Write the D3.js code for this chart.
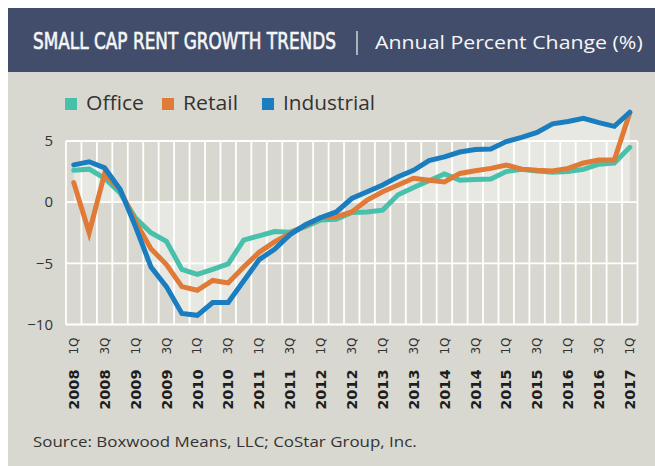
<!DOCTYPE html>
<html><head><meta charset="utf-8">
<script src="https://cdn.jsdelivr.net/npm/d3@7"></script>
<style>body{margin:0;background:#fff}svg{display:block}</style>
</head><body><svg id="c" width="655" height="466"></svg>
<script>
const categories = ["2008 1Q","2008 2Q","2008 3Q","2008 4Q","2009 1Q","2009 2Q","2009 3Q","2009 4Q",
"2010 1Q","2010 2Q","2010 3Q","2010 4Q","2011 1Q","2011 2Q","2011 3Q","2011 4Q",
"2012 1Q","2012 2Q","2012 3Q","2012 4Q","2013 1Q","2013 2Q","2013 3Q","2013 4Q",
"2014 1Q","2014 2Q","2014 3Q","2014 4Q","2015 1Q","2015 2Q","2015 3Q","2015 4Q",
"2016 1Q","2016 2Q","2016 3Q","2016 4Q","2017 1Q"];
const office = [2.6,2.7,1.95,0.75,-1.3,-2.5,-3.2,-5.5,-5.9,-5.5,-5.05,-3.1,-2.75,-2.4,-2.45,-2.0,-1.45,-1.4,-0.85,-0.8,-0.65,0.6,1.2,1.75,2.3,1.8,1.85,1.9,2.5,2.68,2.55,2.45,2.5,2.68,3.1,3.2,4.48];
const retail = [1.6,-2.5,2.35,1.0,-1.6,-3.8,-5.1,-6.9,-7.2,-6.4,-6.6,-5.3,-4.1,-3.25,-2.55,-1.9,-1.25,-1.2,-0.8,0.17,0.85,1.4,1.95,1.8,1.65,2.35,2.57,2.76,3.04,2.7,2.6,2.55,2.76,3.2,3.45,3.45,7.3];
const industrial = [3.05,3.3,2.8,1.05,-2.0,-5.3,-6.9,-9.1,-9.25,-8.2,-8.2,-6.45,-4.7,-3.85,-2.65,-1.85,-1.25,-0.8,0.3,0.85,1.4,2.08,2.6,3.4,3.7,4.1,4.3,4.35,4.95,5.3,5.7,6.4,6.6,6.85,6.5,6.2,7.35];
const seriesNames = ["Office","Retail","Industrial"];
const seriesColors = ["#47c1ab","#e07a37","#1a7dc0"];
const yTicks = [5,0,-5,-10];
const xTickLabels = categories.filter((c,i)=>i%2===0);

const svg = d3.select("#c");
svg.append("rect").attr("x",8).attr("y",8).attr("width",647).attr("height",64).attr("fill","#424d6b");
svg.append("rect").attr("x",8).attr("y",72).attr("width",647).attr("height",394).attr("fill","#d9d8d0");

function fitText(parent, str, x0, y0, w, attrs){
  const t = parent.append("text").attr("x",0).attr("y",0).text(str);
  Object.entries(attrs).forEach(([k,v])=>t.attr(k,v));
  const nat = t.node().getComputedTextLength();
  t.attr("transform",`translate(${x0},${y0}) scale(${w/nat},1)`);
  return t;
}

fitText(svg,"SMALL CAP RENT GROWTH TRENDS",33,49,303,{"fill":"#f6f6f6","stroke":"#f6f6f6","stroke-width":0.6,
  "font-family":"'DejaVu Sans Condensed','DejaVu Sans',sans-serif","font-stretch":"condensed","font-size":23.5});
svg.append("line").attr("x1",357).attr("x2",357).attr("y1",31).attr("y2",55).attr("stroke","#e8e8e8").attr("stroke-width",1.3);
fitText(svg,"Annual Percent Change (%)",375,49,268,{"fill":"#f6f6f6","font-family":"'Open Sans',sans-serif","font-size":18.5,"font-weight":500});

const x = d3.scaleBand().domain(categories).range([66,637.5]).padding(0);
const cx = c => x(c) + x.bandwidth()/2;
const y = d3.scaleLinear().domain([-10,5]).range([324.5,141]);

const area = d3.area().x((d,i)=>cx(categories[i])).y0(y(0)).y1(d=>y(d));
svg.append("path").datum(industrial).attr("d",area).attr("fill","#e8e8e3");

const g = svg.append("g").attr("stroke","#ffffff").attr("stroke-width",1.8);
const vx = categories.map(c=>x(c)).concat([x.range()[1]]);
g.selectAll("line.v").data(vx).join("line").attr("class","v")
  .attr("x1",d=>d).attr("x2",d=>d).attr("y1",y(5)).attr("y2",y(-10));
g.selectAll("line.h").data(yTicks).join("line").attr("class","h")
  .attr("x1",x.range()[0]).attr("x2",x.range()[1]).attr("y1",d=>y(d)).attr("y2",d=>y(d));

const ya = svg.append("g").attr("transform",`translate(${x.range()[0]},0)`)
  .call(d3.axisLeft(y).tickValues(yTicks).tickSize(0).tickPadding(13).tickFormat(d3.format("d")));
ya.select(".domain").remove();
ya.selectAll("text").attr("font-family","'Open Sans',sans-serif").attr("font-size",15).attr("fill","#333");

const xq = svg.append("g").attr("transform",`translate(0,${y(-10)})`)
  .call(d3.axisBottom(x).tickValues(xTickLabels).tickSize(0).tickFormat(d=>d.split(" ")[1]));
xq.select(".domain").remove();
xq.selectAll("text").attr("font-family","'DejaVu Sans',sans-serif").attr("font-size",12).attr("fill","#333")
  .attr("transform","rotate(-90)").attr("text-anchor","end").attr("dy","0.35em").attr("x",-13).attr("y",0);
const xy = svg.append("g").attr("transform",`translate(0,${y(-10)})`)
  .call(d3.axisBottom(x).tickValues(xTickLabels).tickSize(0).tickFormat(d=>d.split(" ")[0]));
xy.select(".domain").remove();
xy.selectAll("text").attr("font-family","'DejaVu Sans',sans-serif").attr("font-weight","bold").attr("font-size",14.5).attr("fill","#1e1e1e")
  .attr("transform","rotate(-90)").attr("text-anchor","end").attr("dy","0.36em").attr("x",-45).attr("y",0);

const line = d3.line().x((d,i)=>cx(categories[i])).y(d=>y(d));
const seriesData = [office, retail, industrial];
[0,1,2].forEach(k=>{
  svg.append("path").datum(seriesData[k]).attr("d",line).attr("fill","none")
    .attr("stroke",seriesColors[k]).attr("stroke-width",5).attr("stroke-linejoin","miter").attr("stroke-linecap","round");
});

const legX = [65,162,262];
const legW = [58,55,92];
const leg = svg.append("g");
seriesNames.forEach((n,i)=>{
  leg.append("rect").attr("x",legX[i]).attr("y",98).attr("width",12).attr("height",12).attr("fill",seriesColors[i]);
  fitText(leg,n,legX[i]+21,110,legW[i],{"font-family":"'Open Sans',sans-serif","font-size":19.5,"fill":"#333"});
});

fitText(svg,"Source: Boxwood Means, LLC; CoStar Group, Inc.",33,447,384,{"font-family":"'Open Sans',sans-serif","font-size":14.5,"fill":"#333"});
</script></body></html>
